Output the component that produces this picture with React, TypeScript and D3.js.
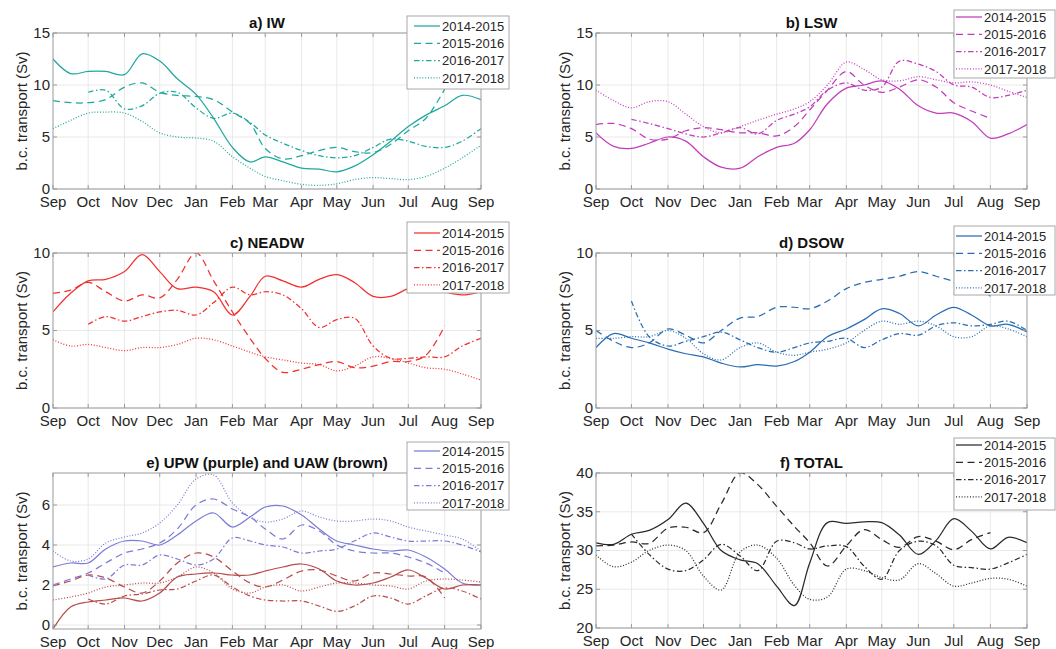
import * as d3 from 'd3';

// sample dates: 1st and 16th of each month, Sep 2014 .. Sep 2015
const sampleDates = [
  '2014-09-01', '2014-09-16', '2014-10-01', '2014-10-16', '2014-11-01', '2014-11-16',
  '2014-12-01', '2014-12-16', '2015-01-01', '2015-01-16', '2015-02-01', '2015-02-16',
  '2015-03-01', '2015-03-16', '2015-04-01', '2015-04-16', '2015-05-01', '2015-05-16',
  '2015-06-01', '2015-06-16', '2015-07-01', '2015-07-16', '2015-08-01', '2015-08-16',
  '2015-09-01',
];

const monthTicks = [
  '2014-09-01', '2014-10-01', '2014-11-01', '2014-12-01', '2015-01-01', '2015-02-01',
  '2015-03-01', '2015-04-01', '2015-05-01', '2015-06-01', '2015-07-01', '2015-08-01',
  '2015-09-01',
];
const monthLabels = ['Sep', 'Oct', 'Nov', 'Dec', 'Jan', 'Feb', 'Mar', 'Apr', 'May', 'Jun', 'Jul', 'Aug', 'Sep'];

const years = ['2014-2015', '2015-2016', '2016-2017', '2017-2018'];

type V = number | null;
const _ = null;

// a) IW
const iw14: V[] = [12.5, 11.1, 11.3, 11.3, 11.0, 13.0, 12.3, 10.6, 9.1, 6.8, 4.0, 2.6, 3.1, 2.6, 2.0, 1.9, 1.65, 2.2, 3.3, 4.6, 6.0, 7.1, 8.0, 9.0, 8.6];
const iw15: V[] = [8.5, 8.3, 8.3, 8.6, 9.8, 10.2, 9.3, 9.0, 8.9, 8.6, 7.4, 6.3, 3.9, 2.9, 3.2, 3.7, 4.0, 3.6, 3.5, 4.3, 5.6, 6.8, 9.6, _, _];
const iw16: V[] = [_, _, 9.3, 9.5, 7.7, 8.0, 9.2, 9.3, 7.8, 6.8, 7.3, 6.4, 5.2, 4.4, 3.7, 3.2, 3.0, 3.2, 4.0, 4.8, 4.6, 4.1, 4.0, 4.6, 5.8];
const iw17: V[] = [5.8, 6.6, 7.3, 7.4, 7.3, 6.5, 5.4, 5.0, 4.9, 4.6, 3.1, 2.0, 1.2, 0.8, 0.45, 0.35, 0.5, 0.9, 1.1, 1.0, 0.9, 1.2, 2.0, 3.0, 4.2];

// b) LSW
const lsw14: V[] = [5.4, 4.1, 3.9, 4.4, 5.0, 4.6, 3.1, 2.1, 2.0, 3.1, 4.0, 4.4, 5.7, 8.2, 9.7, 10.0, 10.4, 9.6, 8.0, 7.3, 7.3, 6.5, 4.9, 5.3, 6.2];
const lsw15: V[] = [6.2, 6.3, 5.8, 4.8, 4.8, 5.6, 5.9, 5.7, 5.4, 5.4, 5.1, 6.0, 7.6, 9.5, 11.3, 10.0, 9.3, 9.8, 10.5, 9.8, 8.3, 7.5, 6.8, _, _];
const lsw16: V[] = [_, _, 6.7, 6.3, 5.8, 5.3, 5.0, 5.4, 5.9, 5.3, 6.6, 7.2, 7.9, 9.5, 10.2, 9.5, 9.8, 12.3, 12.0, 11.3, 10.0, 9.8, 8.8, 9.0, 9.5];
const lsw17: V[] = [9.5, 8.5, 7.8, 8.4, 8.4, 7.2, 6.0, 5.4, 6.0, 6.6, 7.2, 7.7, 8.4, 10.0, 12.2, 11.5, 10.5, 10.4, 10.8, 10.5, 10.2, 10.3, 10.0, 9.4, 8.8];

// c) NEADW
const ne14: V[] = [6.2, 7.4, 8.2, 8.3, 8.8, 9.9, 8.8, 7.7, 7.8, 7.5, 6.0, 7.2, 8.5, 8.2, 7.8, 8.3, 8.6, 8.1, 7.2, 7.2, 7.7, 7.9, 7.5, 7.3, 7.5];
const ne15: V[] = [7.4, 7.6, 8.1, 7.5, 6.9, 7.3, 7.1, 8.3, 10.0, 8.2, 6.2, 4.5, 3.2, 2.3, 2.5, 2.8, 3.0, 2.6, 2.7, 3.0, 3.0, 3.4, 5.3, _, _];
const ne16: V[] = [_, _, 5.4, 5.9, 5.6, 5.9, 6.2, 6.3, 6.0, 6.8, 7.8, 7.3, 7.5, 7.3, 6.4, 5.2, 5.7, 5.8, 4.0, 3.2, 3.2, 3.3, 3.3, 4.0, 4.5];
const ne17: V[] = [4.4, 4.0, 4.1, 3.9, 3.7, 3.9, 3.9, 4.1, 4.5, 4.4, 4.0, 3.6, 3.3, 3.1, 2.9, 2.8, 2.4, 2.7, 3.3, 3.2, 2.9, 2.6, 2.5, 2.2, 1.8];

// d) DSOW
const ds14: V[] = [3.9, 4.8, 4.5, 4.2, 3.8, 3.5, 3.3, 2.9, 2.65, 2.8, 2.7, 3.0, 3.6, 4.6, 5.1, 5.7, 6.4, 6.1, 5.3, 6.0, 6.5, 6.0, 5.3, 5.4, 4.9];
const ds15: V[] = [5.0, 4.3, 3.9, 4.2, 5.1, 4.7, 4.2, 5.0, 5.8, 5.9, 6.5, 6.5, 6.4, 6.9, 7.7, 8.1, 8.3, 8.5, 8.8, 8.5, 8.2, 8.2, 7.2, _, _];
const ds16: V[] = [_, _, 6.9, 4.6, 4.0, 4.3, 4.6, 4.9, 4.4, 3.9, 3.6, 3.9, 4.2, 4.3, 4.5, 3.9, 4.4, 4.8, 4.7, 5.3, 5.5, 5.3, 5.4, 5.6, 5.0];
const ds17: V[] = [4.5, 4.5, 4.6, 4.6, 5.0, 4.5, 3.5, 3.1, 3.9, 4.2, 3.6, 3.4, 3.6, 3.8, 4.2, 5.0, 5.6, 5.4, 5.6, 5.3, 4.6, 4.6, 5.3, 5.1, 4.6];

// e) UPW (purple)
const upw14: V[] = [2.9, 3.1, 3.1, 3.8, 4.2, 4.2, 4.0, 4.5, 5.2, 5.6, 4.9, 5.4, 5.9, 5.95, 5.5, 4.8, 4.2, 4.0, 3.8, 3.7, 3.75, 3.4, 2.8, 2.1, 2.0];
const upw15: V[] = [2.0, 2.3, 2.6, 3.1, 3.6, 3.8, 4.1, 4.8, 6.0, 6.3, 5.8, 5.4, 4.8, 4.3, 5.0, 4.7, 4.0, 3.7, 3.6, 3.6, 3.4, 3.1, 2.6, _, _];
const upw16: V[] = [_, _, 2.5, 2.3, 3.0, 3.0, 3.5, 3.3, 3.0, 3.3, 4.35, 4.2, 4.0, 3.9, 3.6, 3.7, 3.8, 4.2, 4.6, 4.4, 4.2, 4.2, 4.2, 4.0, 3.65];
const upw17: V[] = [3.7, 3.2, 3.3, 4.1, 4.4, 4.6, 5.1, 6.0, 7.3, 7.5, 6.1, 5.4, 5.15, 5.3, 5.7, 5.4, 5.2, 5.2, 5.3, 5.2, 4.9, 4.7, 4.5, 4.3, 3.7];

// e) UAW (brown)
const uaw14: V[] = [-0.2, 0.9, 1.15, 1.25, 1.35, 1.2, 1.6, 2.4, 2.55, 2.6, 2.5, 2.5, 2.7, 2.9, 3.05, 2.8, 2.2, 2.0, 2.1, 2.4, 2.75, 2.35, 1.8, 2.0, 2.0];
const uaw15: V[] = [1.95, 2.2, 2.5, 2.35, 1.9, 1.6, 2.2, 3.1, 3.6, 3.4, 2.7, 2.1, 1.9, 2.25, 2.7, 2.75, 2.45, 2.2, 2.6, 2.55, 2.45, 2.4, 1.35, _, _];
const uaw16: V[] = [_, _, 1.3, 1.05, 1.45, 1.55, 1.75, 1.8, 2.2, 2.5, 1.9, 1.45, 1.25, 1.2, 1.2, 0.95, 0.68, 0.95, 1.45, 1.35, 1.05, 1.45, 1.85, 1.7, 1.3];
const uaw17: V[] = [1.25, 1.4, 1.6, 1.9, 2.0, 2.1, 2.1, 2.4, 2.9, 2.6, 1.8, 1.6, 1.9, 2.0, 1.7, 1.9, 2.1, 2.1, 2.0, 1.95, 1.8, 2.2, 2.3, 2.25, 2.15];

// f) TOTAL
const tot14: V[] = [31.0, 30.8, 32.1, 32.6, 34.0, 36.1, 33.5, 30.0, 28.8, 28.3, 25.4, 22.9, 28.4, 33.6, 33.5, 33.7, 33.6, 32.0, 29.5, 31.3, 34.1, 32.5, 30.2, 31.7, 31.0];
const tot15: V[] = [30.6, 30.7, 31.1, 30.9, 32.9, 33.0, 32.3, 36.0, 40.0, 38.5, 35.7, 33.1, 31.0, 28.0, 30.6, 32.7, 31.4, 30.4, 31.8, 31.2, 30.1, 31.4, 32.3, _, _];
const tot16: V[] = [_, _, 32.1, 29.5, 27.6, 27.4, 28.8, 30.8, 29.3, 27.4, 31.2, 31.0, 30.2, 30.6, 30.5, 28.0, 26.3, 30.0, 31.2, 30.6, 28.1, 27.8, 27.6, 28.4, 29.5];
const tot17: V[] = [29.4, 27.9, 28.5, 30.0, 30.7, 30.0, 26.7, 24.9, 29.8, 30.7, 29.0, 25.5, 23.7, 24.0, 27.6, 27.4, 26.5, 26.2, 28.3, 27.0, 25.4, 25.8, 26.4, 26.3, 25.4];

const parse = d3.timeParse('%Y-%m-%d');
const dates = sampleDates.map(s => parse(s)!);
const tickDates = monthTicks.map(s => parse(s)!);

// solid, dashed, dash-dot, dotted
const dashes = ['', '7 4.5', '5.5 2.5 1.5 2.5', '1 1.8'];
const FONT = '"Liberation Sans", Arial, Helvetica, sans-serif';

interface Series {
  values: V[];
  color: string;
  style: number;
}

interface PanelProps {
  id: string;
  title: string;
  x0: number;
  x1: number;
  y0: number;
  y1: number;
  domain: [number, number];
  ticks: number[];
  series: Series[];
  legendColor: string;
  legend: { x: number; y: number; w: number; h: number; first: number; lineX: number };
}

function Panel(p: PanelProps) {
  const x = d3.scaleTime().domain([tickDates[0], tickDates[12]]).range([p.x0, p.x1]);
  const y = d3.scaleLinear().domain(p.domain).range([p.y1, p.y0]);
  const line = d3
    .line<V>()
    .defined(d => d !== null)
    .x((_d, i) => x(dates[i]))
    .y(d => y(d as number))
    .curve(d3.curveCatmullRom.alpha(0.5));

  const axisColor = '#9a9a9a';
  const tl = 4;
  const lg = p.legend;

  return (
    <g>
      <defs>
        <clipPath id={`clip-${p.id}`}>
          <rect x={p.x0} y={p.y0} width={p.x1 - p.x0} height={p.y1 - p.y0} />
        </clipPath>
      </defs>

      {/* grid */}
      {tickDates.slice(1, 12).map((d, i) => (
        <line key={`gx${i}`} x1={x(d)} x2={x(d)} y1={p.y0} y2={p.y1} stroke="#e6e6e6" strokeWidth={0.9} />
      ))}
      {p.ticks.map(t => (
        <line key={`gy${t}`} x1={p.x0} x2={p.x1} y1={y(t)} y2={y(t)} stroke="#e6e6e6" strokeWidth={0.9} />
      ))}

      {/* series */}
      <g clipPath={`url(#clip-${p.id})`}>
        {p.series.map((s, i) => (
          <path
            key={i}
            d={line(s.values) || ''}
            fill="none"
            stroke={s.color}
            strokeWidth={1.25}
            strokeDasharray={dashes[s.style] || undefined}
          />
        ))}
      </g>

      {/* axes box and ticks */}
      <rect x={p.x0} y={p.y0} width={p.x1 - p.x0} height={p.y1 - p.y0} fill="none" stroke={axisColor} strokeWidth={1} />
      {tickDates.map((d, i) => (
        <g key={`tx${i}`}>
          <line x1={x(d)} x2={x(d)} y1={p.y1} y2={p.y1 - tl} stroke={axisColor} />
          <line x1={x(d)} x2={x(d)} y1={p.y0} y2={p.y0 + tl} stroke={axisColor} />
          <text x={x(d)} y={p.y1 + 18} textAnchor="middle" fontSize={15} fill="#262626" fontFamily={FONT}>
            {monthLabels[i]}
          </text>
        </g>
      ))}
      {p.ticks.map(t => (
        <g key={`ty${t}`}>
          <line x1={p.x0} x2={p.x0 + tl} y1={y(t)} y2={y(t)} stroke={axisColor} />
          <line x1={p.x1} x2={p.x1 - tl} y1={y(t)} y2={y(t)} stroke={axisColor} />
          <text x={p.x0 - 3} y={y(t)} dy="0.33em" textAnchor="end" fontSize={15} fill="#262626" fontFamily={FONT}>
            {t}
          </text>
        </g>
      ))}

      <text
        transform={`translate(${p.x0 - 26},${(p.y0 + p.y1) / 2}) rotate(-90)`}
        textAnchor="middle"
        fontSize={15}
        fill="#262626"
        fontFamily={FONT}
      >
        b.c. transport (Sv)
      </text>

      <text x={(p.x0 + p.x1) / 2} y={p.y0 - 5} textAnchor="middle" fontSize={15} fontWeight="bold" fill="#111" fontFamily={FONT}>
        {p.title}
      </text>

      {/* legend */}
      <rect x={lg.x} y={lg.y} width={lg.w} height={lg.h} fill="#fff" stroke="#a8a8a8" strokeWidth={1} />
      {years.map((yr, i) => {
        const cy = lg.y + lg.first + i * 17.3;
        return (
          <g key={yr}>
            <line
              x1={lg.x + lg.lineX}
              x2={lg.x + lg.lineX + 26}
              y1={cy}
              y2={cy}
              stroke={p.legendColor}
              strokeWidth={1.25}
              strokeDasharray={dashes[i] || undefined}
            />
            <text x={lg.x + lg.lineX + 28} y={cy} dy="0.36em" fontSize={13} fill="#262626" fontFamily={FONT}>
              {yr}
            </text>
          </g>
        );
      })}
    </g>
  );
}

const TEAL = '#1fa89e';
const MAGENTA = '#c13dbb';
const RED = '#f2312f';
const BLUE = '#2a6db3';
const PURPLE = '#7c7cd6';
const BROWN = '#b84b4b';
const BLACK = '#2a2a2a';

const four = (vals: V[][], color: string): Series[] => vals.map((v, i) => ({ values: v, color, style: i }));

const left = { x0: 53, x1: 481 };
const right = { x0: 596, x1: 1027 };
const legL = { x: 407, w: 102, lineX: 7 };
const legR = { x: 954, w: 101, lineX: 2 };

const panels: PanelProps[] = [
  {
    id: 'a', title: 'a) IW', ...left, y0: 33, y1: 189, domain: [0, 15], ticks: [0, 5, 10, 15],
    series: four([iw14, iw15, iw16, iw17], TEAL), legendColor: TEAL,
    legend: { ...legL, y: 16, h: 73, first: 10 },
  },
  {
    id: 'b', title: 'b) LSW', ...right, y0: 33, y1: 189, domain: [0, 15], ticks: [0, 5, 10, 15],
    series: four([lsw14, lsw15, lsw16, lsw17], MAGENTA), legendColor: MAGENTA,
    legend: { ...legR, y: 10, h: 68, first: 7 },
  },
  {
    id: 'c', title: 'c) NEADW', ...left, y0: 253, y1: 408, domain: [0, 10], ticks: [0, 5, 10],
    series: four([ne14, ne15, ne16, ne17], RED), legendColor: RED,
    legend: { ...legL, y: 222, h: 71, first: 11 },
  },
  {
    id: 'd', title: 'd) DSOW', ...right, y0: 253, y1: 408, domain: [0, 10], ticks: [0, 5, 10],
    series: four([ds14, ds15, ds16, ds17], BLUE), legendColor: BLUE,
    legend: { ...legR, y: 226, h: 69, first: 10 },
  },
  {
    id: 'e', title: 'e) UPW (purple) and UAW (brown)', ...left, y0: 473, y1: 629, domain: [-0.2, 7.6], ticks: [0, 2, 4, 6],
    series: [...four([upw14, upw15, upw16, upw17], PURPLE), ...four([uaw14, uaw15, uaw16, uaw17], BROWN)],
    legendColor: PURPLE,
    legend: { ...legL, y: 442, h: 68, first: 9 },
  },
  {
    id: 'f', title: 'f) TOTAL', ...right, y0: 473, y1: 628, domain: [20, 40], ticks: [20, 25, 30, 35, 40],
    series: four([tot14, tot15, tot16, tot17], BLACK), legendColor: BLACK,
    legend: { ...legR, y: 438, h: 72, first: 7 },
  },
];

export default function App() {
  return (
    <svg
      width={1056}
      height={649}
      style={{ position: 'absolute', left: 0, top: 0, background: '#fff' }}
    >
      {panels.map(p => (
        <Panel key={p.id} {...p} />
      ))}
    </svg>
  );
}
